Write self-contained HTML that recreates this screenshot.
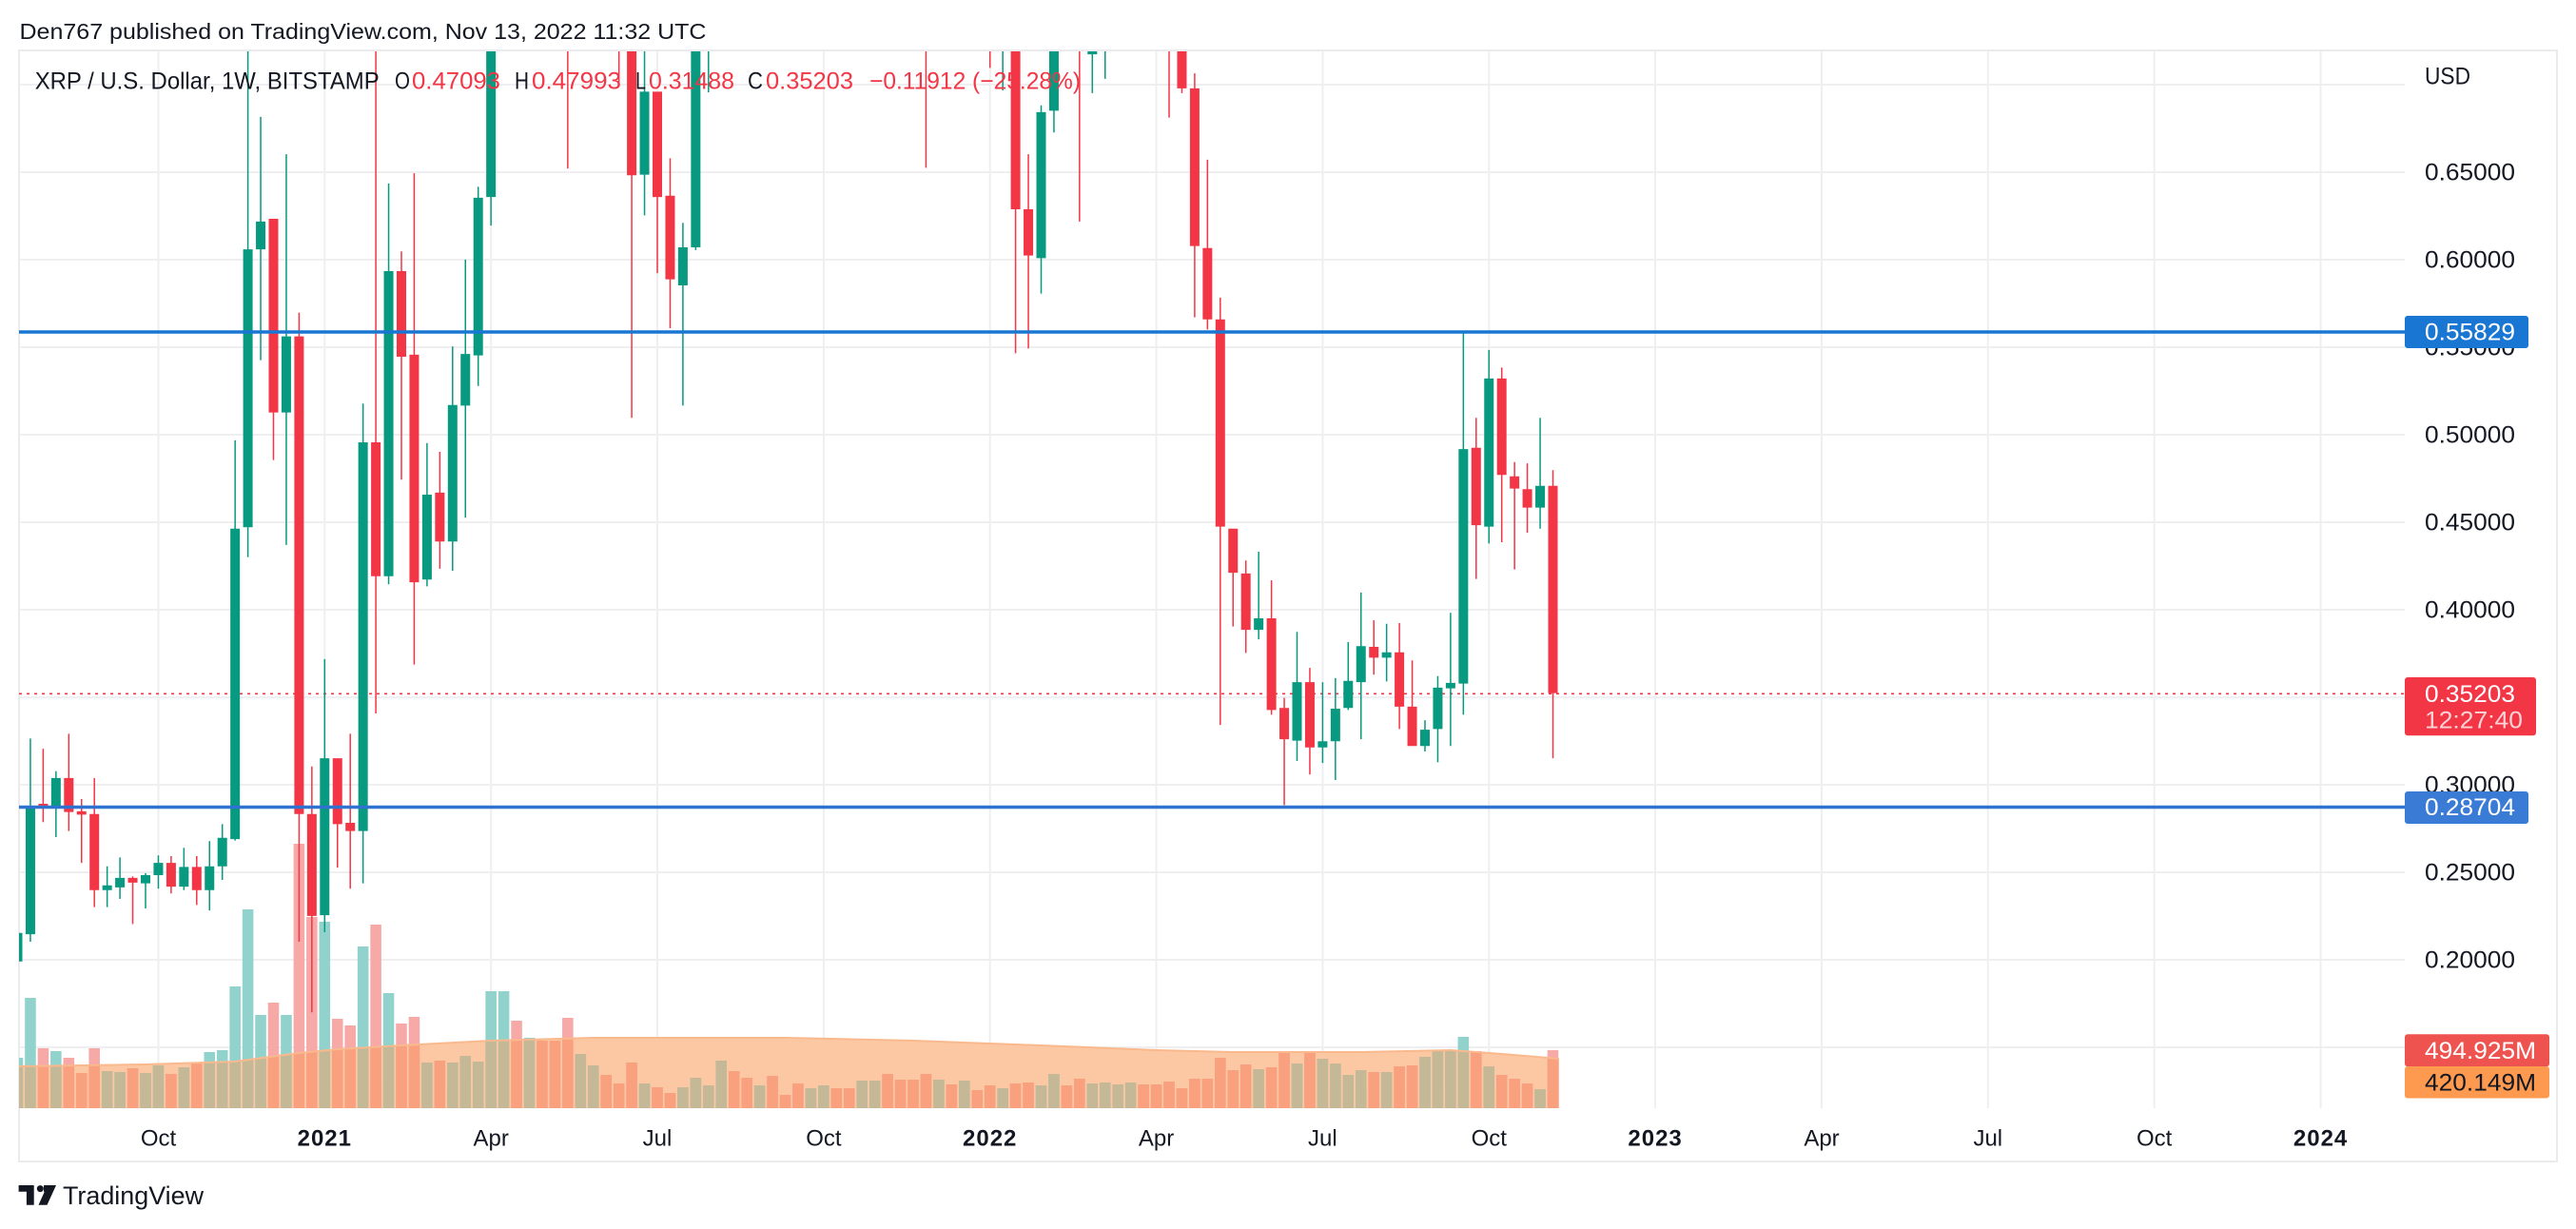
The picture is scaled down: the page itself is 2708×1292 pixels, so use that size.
<!DOCTYPE html>
<html><head><meta charset="utf-8"><title>XRP / U.S. Dollar 1W</title>
<style>html,body{margin:0;padding:0;background:#fff;}svg{display:block;}text{font-family:"Liberation Sans",Arial,sans-serif;fill:#131722;}</style>
</head><body>
<svg xmlns="http://www.w3.org/2000/svg" width="2708" height="1292" viewBox="0 0 2708 1292">
<defs>
<clipPath id="pane"><rect x="20" y="54" width="2508" height="1111"/></clipPath>
<clipPath id="ma"><path d="M14 1121L18.5 1121L153 1119L247 1116L314 1107L355 1103L422 1099L516 1094L624 1091L826 1091L960 1094L1094 1099L1216 1104L1296 1106L1431 1106L1525 1104L1579 1108L1639 1113L1639 1166L14 1166Z"/></clipPath>
<path id="vg" d="M-.43 1112h.86V1165h-.86zM.57 1049h.86V1165h-.86zM2.57 1105h.86V1165h-.86zM6.57 1126h.86V1165h-.86zM7.57 1127h.86V1165h-.86zM9.57 1128h.86V1165h-.86zM10.57 1120h.86V1165h-.86zM12.57 1122h.86V1165h-.86zM14.57 1106h.86V1165h-.86zM15.57 1104h.86V1165h-.86zM16.57 1037h.86V1165h-.86zM17.57 956h.86V1165h-.86zM18.57 1067h.86V1165h-.86zM20.57 1067h.86V1165h-.86zM23.57 969h.86V1165h-.86zM26.57 995h.86V1165h-.86zM28.57 1044h.86V1165h-.86zM31.57 1117h.86V1165h-.86zM33.57 1117h.86V1165h-.86zM34.57 1110h.86V1165h-.86zM35.57 1116h.86V1165h-.86zM36.57 1042h.86V1165h-.86zM37.57 1042h.86V1165h-.86zM39.57 1091h.86V1165h-.86zM43.57 1108h.86V1165h-.86zM44.57 1120h.86V1165h-.86zM48.57 1139h.86V1165h-.86zM51.57 1143h.86V1165h-.86zM52.57 1133h.86V1165h-.86zM53.57 1141h.86V1165h-.86zM54.57 1115h.86V1165h-.86zM57.57 1141h.86V1165h-.86zM61.57 1144h.86V1165h-.86zM62.57 1141h.86V1165h-.86zM65.57 1136h.86V1165h-.86zM66.57 1136h.86V1165h-.86zM71.57 1135h.86V1165h-.86zM73.57 1136h.86V1165h-.86zM76.57 1144h.86V1165h-.86zM79.57 1141h.86V1165h-.86zM80.57 1129h.86V1165h-.86zM83.57 1139h.86V1165h-.86zM84.57 1138h.86V1165h-.86zM85.57 1140h.86V1165h-.86zM86.57 1138h.86V1165h-.86zM96.57 1124h.86V1165h-.86zM99.57 1118h.86V1165h-.86zM101.57 1113h.86V1165h-.86zM102.57 1118h.86V1165h-.86zM103.57 1130h.86V1165h-.86zM104.57 1125h.86V1165h-.86zM106.57 1127h.86V1165h-.86zM109.57 1111h.86V1165h-.86zM110.57 1105h.86V1165h-.86zM111.57 1104h.86V1165h-.86zM112.57 1090h.86V1165h-.86zM114.57 1121h.86V1165h-.86zM118.57 1145h.86V1165h-.86z"/>
<path id="vr" d="M1.57 1102h.86V1165h-.86zM3.57 1112h.86V1165h-.86zM4.57 1128h.86V1165h-.86zM5.57 1102h.86V1165h-.86zM8.57 1123h.86V1165h-.86zM11.57 1129h.86V1165h-.86zM13.57 1118h.86V1165h-.86zM19.57 1054h.86V1165h-.86zM21.57 887h.86V1165h-.86zM22.57 964h.86V1165h-.86zM24.57 1071h.86V1165h-.86zM25.57 1078h.86V1165h-.86zM27.57 972h.86V1165h-.86zM29.57 1076h.86V1165h-.86zM30.57 1069h.86V1165h-.86zM32.57 1115h.86V1165h-.86zM38.57 1073h.86V1165h-.86zM40.57 1094h.86V1165h-.86zM41.57 1094h.86V1165h-.86zM42.57 1070h.86V1165h-.86zM45.57 1130h.86V1165h-.86zM46.57 1139h.86V1165h-.86zM47.57 1117h.86V1165h-.86zM49.57 1143h.86V1165h-.86zM50.57 1149h.86V1165h-.86zM55.57 1126h.86V1165h-.86zM56.57 1133h.86V1165h-.86zM58.57 1131h.86V1165h-.86zM59.57 1151h.86V1165h-.86zM60.57 1139h.86V1165h-.86zM63.57 1144h.86V1165h-.86zM64.57 1144h.86V1165h-.86zM67.57 1129h.86V1165h-.86zM68.57 1135h.86V1165h-.86zM69.57 1135h.86V1165h-.86zM70.57 1129h.86V1165h-.86zM72.57 1140h.86V1165h-.86zM74.57 1146h.86V1165h-.86zM75.57 1141h.86V1165h-.86zM77.57 1139h.86V1165h-.86zM78.57 1138h.86V1165h-.86zM81.57 1141h.86V1165h-.86zM82.57 1134h.86V1165h-.86zM87.57 1140h.86V1165h-.86zM88.57 1140h.86V1165h-.86zM89.57 1137h.86V1165h-.86zM90.57 1144h.86V1165h-.86zM91.57 1134h.86V1165h-.86zM92.57 1134h.86V1165h-.86zM93.57 1112h.86V1165h-.86zM94.57 1125h.86V1165h-.86zM95.57 1119h.86V1165h-.86zM97.57 1122h.86V1165h-.86zM98.57 1105h.86V1165h-.86zM100.57 1106h.86V1165h-.86zM105.57 1127h.86V1165h-.86zM107.57 1121h.86V1165h-.86zM108.57 1120h.86V1165h-.86zM113.57 1105h.86V1165h-.86zM115.57 1130h.86V1165h-.86zM116.57 1134h.86V1165h-.86zM117.57 1139h.86V1165h-.86zM119.57 1104h.86V1165h-.86z"/>
</defs>
<rect width="2708" height="1292" fill="#fff"/>

<!-- header -->
<text x="20.5" y="41" font-size="23" textLength="722" lengthAdjust="spacingAndGlyphs">Den767 published on TradingView.com, Nov 13, 2022 11:32 UTC</text>

<!-- grid -->
<g stroke="#efeff1" stroke-width="2">
<line x1="20" y1="89" x2="2528" y2="89"/><line x1="20" y1="181" x2="2528" y2="181"/><line x1="20" y1="273" x2="2528" y2="273"/><line x1="20" y1="365" x2="2528" y2="365"/><line x1="20" y1="457" x2="2528" y2="457"/><line x1="20" y1="549" x2="2528" y2="549"/><line x1="20" y1="641" x2="2528" y2="641"/><line x1="20" y1="733" x2="2528" y2="733"/><line x1="20" y1="825" x2="2528" y2="825"/><line x1="20" y1="917" x2="2528" y2="917"/><line x1="20" y1="1009" x2="2528" y2="1009"/><line x1="20" y1="1101" x2="2528" y2="1101"/>
<line x1="166.5" y1="54" x2="166.5" y2="1165"/><line x1="341.3" y1="54" x2="341.3" y2="1165"/><line x1="516.2" y1="54" x2="516.2" y2="1165"/><line x1="691" y1="54" x2="691" y2="1165"/><line x1="865.9" y1="54" x2="865.9" y2="1165"/><line x1="1040.7" y1="54" x2="1040.7" y2="1165"/><line x1="1215.6" y1="54" x2="1215.6" y2="1165"/><line x1="1390.4" y1="54" x2="1390.4" y2="1165"/><line x1="1565.3" y1="54" x2="1565.3" y2="1165"/><line x1="1740.1" y1="54" x2="1740.1" y2="1165"/><line x1="1915" y1="54" x2="1915" y2="1165"/><line x1="2089.8" y1="54" x2="2089.8" y2="1165"/><line x1="2264.7" y1="54" x2="2264.7" y2="1165"/><line x1="2439.6" y1="54" x2="2439.6" y2="1165"/>
</g>
<rect x="20" y="53" width="2668" height="1168" fill="none" stroke="#ebebee" stroke-width="2"/>

<!-- volume -->
<g clip-path="url(#pane)">
<path d="M14 1121L18.5 1121L153 1119L247 1116L314 1107L355 1103L422 1099L516 1094L624 1091L826 1091L960 1094L1094 1099L1216 1104L1296 1106L1431 1106L1525 1104L1579 1108L1639 1113L1639 1165L14 1165Z" fill="#fcc8a4"/>
<g transform="translate(18.5 0) scale(13.45 1)">
<use href="#vg" fill="#92d2cc"/>
<use href="#vr" fill="#f7a9a7"/>
</g>
<g clip-path="url(#ma)">
<g transform="translate(18.5 0) scale(13.45 1)">
<use href="#vg" fill="#c4b896"/>
<use href="#vr" fill="#f9a07f"/>
</g>
</g>
<path d="M14 1121L18.5 1121L153 1119L247 1116L314 1107L355 1103L422 1099L516 1094L624 1091L826 1091L960 1094L1094 1099L1216 1104L1296 1106L1431 1106L1525 1104L1579 1108L1639 1113" fill="none" stroke="#f9b98d" stroke-width="2"/>
</g>

<!-- last price dotted line -->
<line x1="20" y1="729.3" x2="2528" y2="729.3" stroke="#f23645" stroke-width="1.6" stroke-dasharray="3 5"/>

<!-- candles -->
<g clip-path="url(#pane)">
<g transform="translate(18.5 50) scale(13.45 0.7142857)">
<path fill="#089981" d="M-.056 1300h.112V1345h-.112zM-.372 1303h.744V1345h-.744zM.944 1017h.112V1316h-.112zM.628 1117h.744V1305h-.744zM2.944 1065h.112V1162h-.112zM2.628 1075h.744V1117h-.744zM6.944 1205h.112V1265h-.112zM6.628 1233h.744V1240h-.744zM7.944 1192h.112V1253h-.112zM7.628 1222h.744V1236h-.744zM9.944 1215h.112V1267h-.112zM9.628 1218h.744V1230h-.744zM10.944 1189h.112V1238h-.112zM10.628 1200h.744V1218h-.744zM12.944 1178h.112V1240h-.112zM12.628 1206h.744V1235h-.744zM14.944 1168h.112V1270h-.112zM14.628 1205h.744V1240h-.744zM15.944 1143h.112V1225h-.112zM15.628 1163h.744V1205h-.744zM16.944 578h.112V1167h-.112zM16.628 708h.744V1165h-.744zM17.944 -20h.112V750h-.112zM17.628 297h.744V706h-.744zM18.944 102h.112V460h-.112zM18.628 256h.744V297h-.744zM20.944 157h.112V732h-.112zM20.628 425h.744V537h-.744zM23.944 900h.112V1302h-.112zM23.628 1046h.744V1277h-.744zM26.944 524h.112V1230h-.112zM26.628 581h.744V1153h-.744zM28.944 200h.112V790h-.112zM28.628 329h.744V778h-.744zM31.944 582h.112V793h-.112zM31.628 658h.744V783h-.744zM33.944 440h.112V770h-.112zM33.628 526h.744V727h-.744zM34.944 312h.112V692h-.112zM34.628 451h.744V527h-.744zM35.944 205h.112V498h-.112zM35.628 221h.744V453h-.744zM36.944 -20h.112V262h-.112zM36.628 -20h.744V220h-.744zM48.944 -20h.112V247h-.112zM48.628 65h.744V187h-.744zM51.944 258h.112V527h-.112zM51.628 294h.744V350h-.744zM52.944 -20h.112V298h-.112zM52.628 -20h.744V294h-.744zM53.944 -20h.112V66h-.112zM76.944 -20h.112V63h-.112zM79.944 85h.112V362h-.112zM79.628 95h.744V310h-.744zM80.944 -20h.112V125h-.112zM80.628 -20h.744V93h-.744zM83.944 -20h.112V67h-.112zM83.628 -20h.744V10h-.744zM84.944 -20h.112V46h-.112zM96.944 742h.112V871h-.112zM96.628 840h.744V857h-.744zM99.944 860h.112V1050h-.112zM99.628 934h.744V1020h-.744zM101.944 934h.112V1053h-.112zM101.628 1021h.744V1030h-.744zM102.944 928h.112V1078h-.112zM102.628 973h.744V1021h-.744zM103.944 875h.112V975h-.112zM103.628 932h.744V972h-.744zM104.944 802h.112V1018h-.112zM104.628 881h.744V934h-.744zM106.944 848h.112V933h-.112zM106.628 890h.744V898h-.744zM109.944 990h.112V1036h-.112zM109.628 1004h.744V1028h-.744zM110.944 925h.112V1052h-.112zM110.628 942h.744V1003h-.744zM111.944 832h.112V1028h-.112zM111.628 935h.744V943h-.744zM112.944 420h.112V982h-.112zM112.628 591h.744V936h-.744zM114.944 445h.112V730h-.112zM114.628 487h.744V705h-.744zM118.944 545h.112V708h-.112zM118.628 645h.744V677h-.744z"/>
<path fill="#f23645" d="M1.944 1032h.112V1140h-.112zM1.628 1113h.744V1118h-.744zM3.944 1010h.112V1153h-.112zM3.628 1075h.744V1125h-.744zM4.944 1106h.112V1200h-.112zM4.628 1124h.744V1129h-.744zM5.944 1075h.112V1265h-.112zM5.628 1128h.744V1240h-.744zM8.944 1220h.112V1290h-.112zM8.628 1222h.744V1229h-.744zM11.944 1190h.112V1245h-.112zM11.628 1200h.744V1235h-.744zM13.944 1190h.112V1262h-.112zM13.628 1206h.744V1240h-.744zM19.944 252h.112V607h-.112zM19.628 252h.744V537h-.744zM21.944 390h.112V1316h-.112zM21.628 425h.744V1128h-.744zM22.944 1058h.112V1420h-.112zM22.628 1128h.744V1278h-.744zM24.944 1046h.112V1207h-.112zM24.628 1046h.744V1143h-.744zM25.944 1010h.112V1238h-.112zM25.628 1141h.744V1153h-.744zM27.944 -20h.112V980h-.112zM27.628 581h.744V778h-.744zM29.944 300h.112V636h-.112zM29.628 329h.744V455h-.744zM30.944 185h.112V908h-.112zM30.628 452h.744V787h-.744zM32.944 595h.112V767h-.112zM32.628 655h.744V727h-.744zM42.944 -20h.112V178h-.112zM46.944 -20h.112V51h-.112zM47.944 -20h.112V545h-.112zM47.628 -20h.744V188h-.744zM49.944 65h.112V332h-.112zM49.628 65h.744V220h-.744zM50.944 163h.112V413h-.112zM50.628 218h.744V341h-.744zM70.944 -20h.112V177h-.112zM75.944 -20h.112V30h-.112zM77.944 -20h.112V450h-.112zM77.628 -20h.744V238h-.744zM78.944 157h.112V443h-.112zM78.628 238h.744V306h-.744zM82.944 -20h.112V256h-.112zM89.944 -20h.112V103h-.112zM90.944 -20h.112V67h-.112zM90.628 -20h.744V60h-.744zM91.944 38h.112V397h-.112zM91.628 60h.744V292h-.744zM92.944 165h.112V415h-.112zM92.628 295h.744V400h-.744zM93.944 368h.112V997h-.112zM93.628 400h.744V705h-.744zM94.944 708h.112V852h-.112zM94.628 708h.744V773h-.744zM95.944 755h.112V891h-.112zM95.628 774h.744V857h-.744zM97.944 784h.112V982h-.112zM97.628 840h.744V975h-.744zM98.944 957h.112V1115h-.112zM98.628 972h.744V1018h-.744zM100.944 913h.112V1070h-.112zM100.628 934h.744V1030h-.744zM105.944 843h.112V923h-.112zM105.628 882h.744V898h-.744zM107.944 847h.112V1003h-.112zM107.628 890h.744V970h-.744zM108.944 902h.112V1028h-.112zM108.628 970h.744V1028h-.744zM113.944 545h.112V782h-.112zM113.628 589h.744V703h-.744zM115.944 471h.112V728h-.112zM115.628 487h.744V629h-.744zM116.944 610h.112V768h-.112zM116.628 631h.744V649h-.744zM117.944 612h.112V714h-.112zM117.628 650h.744V677h-.744zM119.944 622h.112V1046h-.112zM119.628 645h.744V950h-.744z"/>
</g>
</g>

<!-- horizontal lines -->
<line x1="20" y1="349" x2="2528" y2="349" stroke="#1976d2" stroke-width="3.5"/>
<line x1="20" y1="848.5" x2="2528" y2="848.5" stroke="#2f72cf" stroke-width="3.5"/>

<!-- legend -->
<g font-size="25">
<text x="36.7" y="93.7" textLength="362" lengthAdjust="spacingAndGlyphs">XRP / U.S. Dollar, 1W, BITSTAMP</text>
<text x="415" y="93.7" textLength="16" lengthAdjust="spacingAndGlyphs">O</text>
<text x="433" y="93.7" textLength="93" lengthAdjust="spacingAndGlyphs" style="fill:#f23645">0.47093</text>
<text x="541" y="93.7" textLength="15" lengthAdjust="spacingAndGlyphs">H</text>
<text x="559" y="93.7" textLength="94" lengthAdjust="spacingAndGlyphs" style="fill:#f23645">0.47993</text>
<text x="668" y="93.7" textLength="11" lengthAdjust="spacingAndGlyphs">L</text>
<text x="682" y="93.7" textLength="90" lengthAdjust="spacingAndGlyphs" style="fill:#f23645">0.31488</text>
<text x="786" y="93.7" textLength="16" lengthAdjust="spacingAndGlyphs">C</text>
<text x="805" y="93.7" textLength="92" lengthAdjust="spacingAndGlyphs" style="fill:#f23645">0.35203</text>
<text x="914" y="93.7" textLength="222" lengthAdjust="spacingAndGlyphs" style="fill:#f23645">−0.11912 (−25.28%)</text>
</g>

<!-- price axis -->
<g font-size="25">
<text x="2549" y="88.7" textLength="48" lengthAdjust="spacingAndGlyphs">USD</text>
<text x="2549" y="189.7" textLength="95" lengthAdjust="spacingAndGlyphs">0.65000</text>
<text x="2549" y="281.7" textLength="95" lengthAdjust="spacingAndGlyphs">0.60000</text>
<text x="2549" y="373.7" textLength="95" lengthAdjust="spacingAndGlyphs">0.55000</text>
<text x="2549" y="465.7" textLength="95" lengthAdjust="spacingAndGlyphs">0.50000</text>
<text x="2549" y="557.7" textLength="95" lengthAdjust="spacingAndGlyphs">0.45000</text>
<text x="2549" y="649.7" textLength="95" lengthAdjust="spacingAndGlyphs">0.40000</text>
<text x="2549" y="833.7" textLength="95" lengthAdjust="spacingAndGlyphs">0.30000</text>
<text x="2549" y="925.7" textLength="95" lengthAdjust="spacingAndGlyphs">0.25000</text>
<text x="2549" y="1017.7" textLength="95" lengthAdjust="spacingAndGlyphs">0.20000</text>

<rect x="2528" y="332" width="130" height="34" rx="3" fill="#1976d2"/>
<text x="2549" y="357.7" textLength="95" lengthAdjust="spacingAndGlyphs" style="fill:#fff">0.55829</text>

<rect x="2528" y="712" width="138" height="61.3" rx="3" fill="#f23645"/>
<text x="2549" y="738" textLength="95" lengthAdjust="spacingAndGlyphs" style="fill:#fff">0.35203</text>
<text x="2549" y="765.4" textLength="103" lengthAdjust="spacingAndGlyphs" style="fill:#fff;fill-opacity:.78">12:27:40</text>

<rect x="2528" y="832" width="130" height="34" rx="3" fill="#3a7bd5"/>
<text x="2549" y="857.2" textLength="95" lengthAdjust="spacingAndGlyphs" style="fill:#fff">0.28704</text>

<rect x="2528" y="1087.3" width="152" height="34" rx="3" fill="#ef5350"/>
<text x="2549" y="1113" textLength="117" lengthAdjust="spacingAndGlyphs" style="fill:#fff">494.925M</text>
<rect x="2528" y="1121" width="152" height="33.5" rx="3" fill="#fd9a50"/>
<text x="2549" y="1146.5" textLength="117" lengthAdjust="spacingAndGlyphs">420.149M</text>
</g>

<!-- time axis -->
<g font-size="24" text-anchor="middle">
<text x="166.5" y="1204.4">Oct</text>
<text x="341.3" y="1204.4" font-weight="bold" letter-spacing="1">2021</text>
<text x="516.2" y="1204.4">Apr</text>
<text x="691" y="1204.4">Jul</text>
<text x="865.9" y="1204.4">Oct</text>
<text x="1040.7" y="1204.4" font-weight="bold" letter-spacing="1">2022</text>
<text x="1215.6" y="1204.4">Apr</text>
<text x="1390.4" y="1204.4">Jul</text>
<text x="1565.3" y="1204.4">Oct</text>
<text x="1740.1" y="1204.4" font-weight="bold" letter-spacing="1">2023</text>
<text x="1915" y="1204.4">Apr</text>
<text x="2089.8" y="1204.4">Jul</text>
<text x="2264.7" y="1204.4">Oct</text>
<text x="2439.6" y="1204.4" font-weight="bold" letter-spacing="1">2024</text>
</g>

<!-- TradingView logo -->
<g fill="#131722">
<path d="M19.6 1246H35.7V1266.7H27.9V1252.7H19.6Z"/>
<circle cx="42.3" cy="1249.6" r="3.5"/>
<path d="M46 1246H59L49.5 1266.7H40.5L46.8 1252.7H46Z"/>
</g>
<text x="66" y="1266.2" font-size="26.5" textLength="148" lengthAdjust="spacingAndGlyphs">TradingView</text>
</svg>
</body></html>
